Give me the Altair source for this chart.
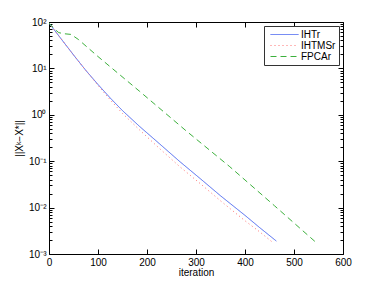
import altair as alt
import pandas as pd

iht_it = [0, 25, 50, 75, 100, 125, 150, 185, 225, 267, 310, 350, 400, 430, 464]
iht_val = [95, 43, 19.5, 9.1, 4.5, 2.3, 1.23, 0.56, 0.24, 0.098, 0.041, 0.018, 0.0068, 0.0037, 0.0019]

ms_it = [0, 25, 50, 75, 100, 125, 150, 185, 225, 267, 310, 350, 400, 430, 456]
ms_val = [95, 43, 19.5, 9.1, 4.3, 2.1, 1.07, 0.47, 0.19, 0.076, 0.032, 0.014, 0.0052, 0.0030, 0.0018]

fp_it = [0, 10, 20, 30, 45, 60, 100, 185, 280, 369, 460, 547]
fp_val = [95, 72, 59, 56, 54, 42, 18, 3.2, 0.45, 0.076, 0.011, 0.0017]

series = ["IHTr", "IHTMSr", "FPCAr"]
colors = ["#4a66f0", "#ff7070", "#3cb03c"]
dashes = [[1, 0], [1, 3], [6, 4]]

x_ticks = [0, 100, 200, 300, 400, 500, 600]
y_ticks = [m * 10.0 ** k for k in range(-3, 2) for m in range(1, 10)] + [100.0]

rows = []
for name, its, vals in [("IHTr", iht_it, iht_val), ("IHTMSr", ms_it, ms_val), ("FPCAr", fp_it, fp_val)]:
    for i, v in zip(its, vals):
        rows.append({"iteration": i, "err": v, "method": name})
df = pd.DataFrame(rows)

font = "Liberation Sans"
major_test = "abs(log(datum.value)/LN10 - round(log(datum.value)/LN10)) < 1e-6"
lab = ("abs(log(datum.value)/LN10 - round(log(datum.value)/LN10)) > 1e-6 ? '' : "
       "round(log(datum.value)/LN10) == 2 ? '10\u00b2' : "
       "round(log(datum.value)/LN10) == 1 ? '10\u00b9' : "
       "round(log(datum.value)/LN10) == 0 ? '10\u2070' : "
       "round(log(datum.value)/LN10) == -1 ? '10\u207b\u00b9' : "
       "round(log(datum.value)/LN10) == -2 ? '10\u207b\u00b2' : '10\u207b\u00b3'")
ysize = {"expr": "(" + major_test + ") ? -5 : -3"}

xscale = alt.Scale(domain=[0, 600], nice=False)
yscale = alt.Scale(type="log", domain=[0.001, 100], nice=False)

lines = alt.Chart(df).mark_line(strokeWidth=1, clip=True).encode(
    x=alt.X("iteration:Q", scale=xscale, title="iteration",
            axis=alt.Axis(values=x_ticks, tickSize={"expr": "-5"}, grid=False, domain=False,
                          labelPadding=8, titlePadding=0, labelFlush=False)),
    y=alt.Y("err:Q", scale=yscale, title="||X\u1d4f\u2212X*||",
            axis=alt.Axis(values=y_ticks, tickSize=ysize, labelExpr=lab, grid=False, domain=False,
                          labelOverlap=False, labelPadding=8, titlePadding=4, labelFlush=False)),
    color=alt.Color("method:N", sort=series, scale=alt.Scale(domain=series, range=colors),
                    legend=alt.Legend(title=None, orient="top-right", offset=4,
                                      symbolType="M-0.4,0H5.2", symbolSize=100, symbolStrokeWidth=1,
                                      strokeColor="#333333", fillColor="white", padding=3,
                                      labelFontSize=10, labelFont=font, rowPadding=0,
                                      labelOffset=23, cornerRadius=0)),
    strokeDash=alt.StrokeDash("method:N", sort=series,
                              scale=alt.Scale(domain=series, range=dashes), legend=None),
)

frame = alt.Chart(df).mark_line(opacity=0).encode(
    x=alt.X("iteration:Q", scale=xscale,
            axis=alt.Axis(orient="top", values=x_ticks, labels=False, title=None,
                          tickSize={"expr": "-5"}, grid=False, domain=False)),
    y=alt.Y("err:Q", scale=yscale,
            axis=alt.Axis(orient="right", values=y_ticks, labels=False, title=None,
                          tickSize=ysize, grid=False, domain=False)),
)

chart = alt.layer(lines, frame).resolve_scale(x="independent", y="independent").properties(
    width=294, height=232,
    autosize=alt.AutoSizeParams(type="none"),
    padding={"left": 41, "top": 14, "right": 20, "bottom": 30},
).configure_view(stroke="black", strokeWidth=1).configure_axis(
    labelFont=font, titleFont=font, labelFontSize=10, titleFontSize=10,
    titleFontWeight="normal", labelColor="black", titleColor="black", tickColor="black",
).configure_legend(labelColor="black")

chart.save("out.html", embed_options={"renderer": "svg", "actions": False})
